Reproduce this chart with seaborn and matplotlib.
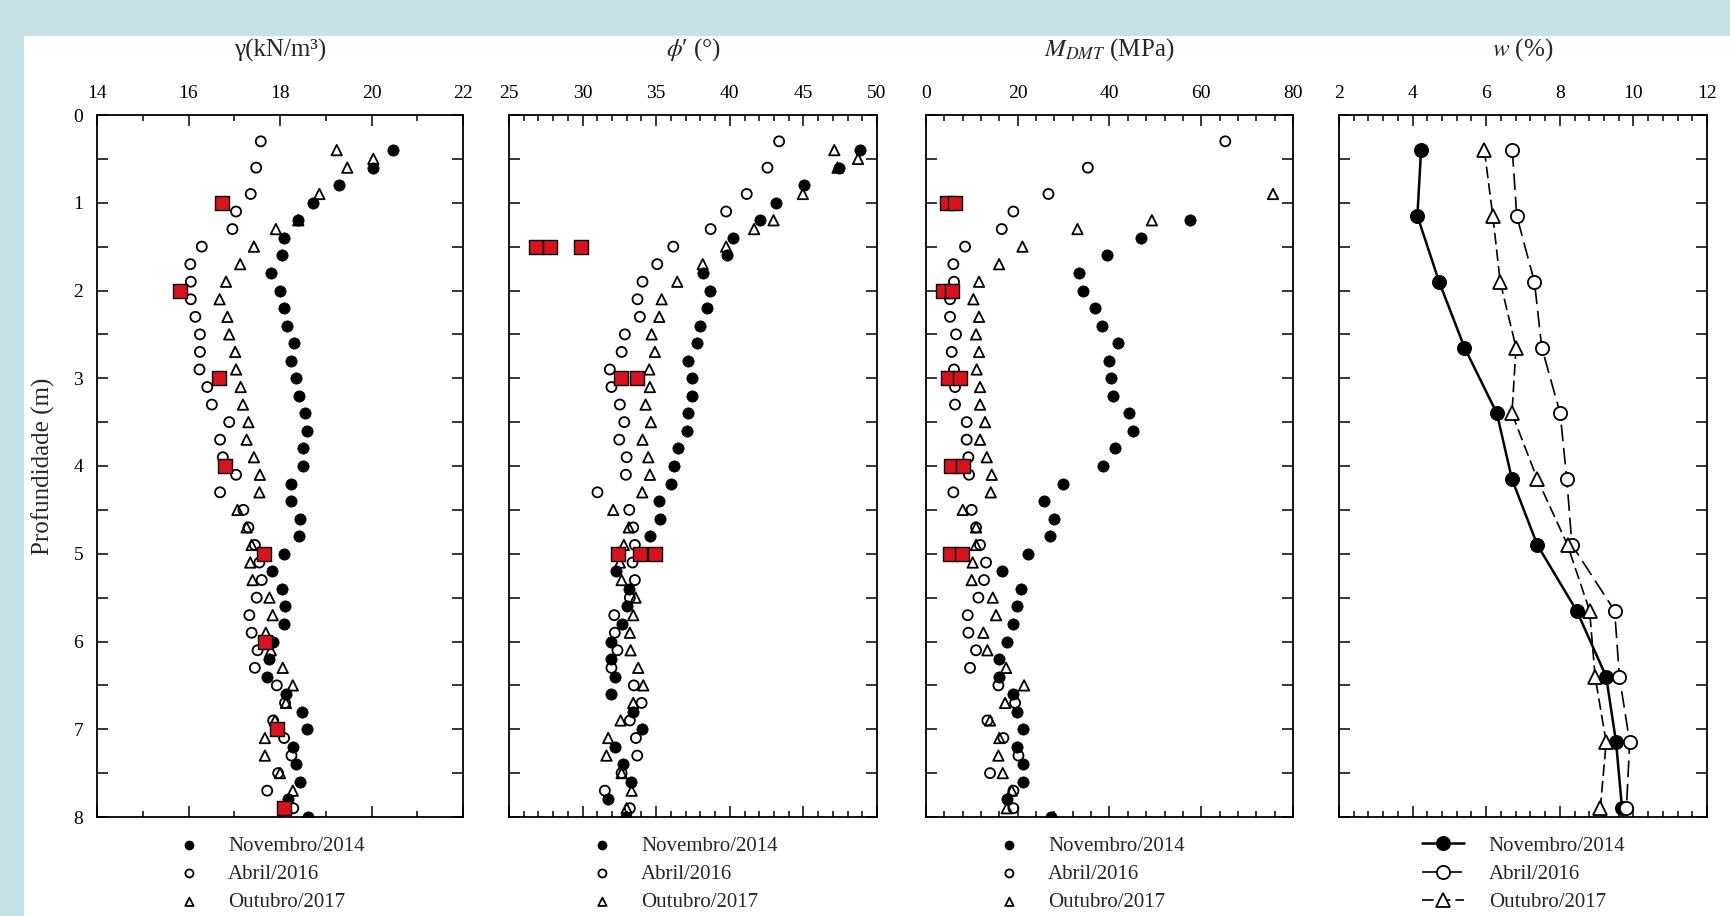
import numpy as np
import matplotlib
matplotlib.use("Agg")
import matplotlib.pyplot as plt
import seaborn as sns
from matplotlib.ticker import MultipleLocator
from matplotlib.patches import Rectangle

# ---------------- data ----------------
labels = ["Novembro/2014", "Abril/2016", "Outubro/2017"]

dep_nov = [0.4, 0.6, 0.8, 1.0, 1.2, 1.4, 1.6, 1.8, 2.0, 2.2, 2.4, 2.6, 2.8, 3.0, 3.2, 3.4,
           3.6, 3.8, 4.0, 4.2, 4.4, 4.6, 4.8, 5.0, 5.2, 5.4, 5.6, 5.8, 6.0, 6.2, 6.4, 6.6,
           6.8, 7.0, 7.2, 7.4, 7.6, 7.8, 8.0]
dep_abr = [0.3, 0.6, 0.9, 1.1, 1.3, 1.5, 1.7, 1.9, 2.1, 2.3, 2.5, 2.7, 2.9, 3.1, 3.3, 3.5,
           3.7, 3.9, 4.1, 4.3, 4.5, 4.7, 4.9, 5.1, 5.3, 5.5, 5.7, 5.9, 6.1, 6.3, 6.5, 6.7,
           6.9, 7.1, 7.3, 7.5, 7.7, 7.9]
dep_out = [0.4, 0.5, 0.6, 0.9, 1.2, 1.3, 1.5, 1.7, 1.9, 2.1, 2.3, 2.5, 2.7, 2.9, 3.1, 3.3,
           3.5, 3.7, 3.9, 4.1, 4.3, 4.5, 4.7, 4.9, 5.1, 5.3, 5.5, 5.7, 5.9, 6.1, 6.3, 6.5,
           6.7, 6.9, 7.1, 7.3, 7.5, 7.7, 7.9]

# unit weight gamma (kN/m3)
gam_nov = [20.46, 20.04, 19.29, 18.73, 18.40, 18.09, 18.04, 17.80, 17.99, 18.09, 18.16, 18.31,
           18.25, 18.36, 18.42, 18.55, 18.58, 18.51, 18.51, 18.23, 18.23, 18.44, 18.42, 18.09,
           17.82, 18.05, 18.11, 18.09, 17.85, 17.75, 17.72, 18.13, 18.47, 18.60, 18.29, 18.35,
           18.44, 18.18, 18.62]
gam_abr = [17.58, 17.48, 17.36, 17.04, 16.96, 16.29, 16.04, 16.05, 16.05, 16.15, 16.25, 16.25,
           16.24, 16.41, 16.51, 16.89, 16.69, 16.75, 17.04, 16.69, 17.20, 17.31, 17.45, 17.55,
           17.60, 17.49, 17.33, 17.38, 17.51, 17.45, 17.93, 18.11, 17.85, 18.09, 18.25, 17.96,
           17.72, 18.29]
gam_out = [19.24, 20.04, 19.47, 18.86, 18.40, 17.91, 17.43, 17.13, 16.82, 16.68, 16.85, 16.89,
           17.02, 17.04, 17.14, 17.19, 17.31, 17.27, 17.43, 17.56, 17.55, 17.07, 17.27, 17.38,
           17.35, 17.40, 17.77, 17.84, 17.69, 17.80, 18.06, 18.28, 18.13, 17.89, 17.67, 17.67,
           18.00, 18.28, 18.15]
gam_lab_dep = [1.0, 2.0, 3.0, 4.0, 5.0, 6.0, 7.0, 7.9]
gam_lab = [16.73, 15.82, 16.67, 16.80, 17.64, 17.67, 17.93, 18.09]

# friction angle phi' (deg)
phi_nov = [48.87, 47.40, 45.05, 43.15, 42.06, 40.25, 39.79, 38.16, 38.66, 38.43, 37.98, 37.75,
           37.18, 37.41, 37.41, 37.18, 37.07, 36.50, 36.21, 35.98, 35.19, 35.25, 34.57, 34.00,
           32.30, 33.17, 32.99, 32.65, 31.96, 31.96, 32.19, 31.90, 33.39, 34.01, 32.19, 32.76,
           33.28, 31.74, 32.94]
phi_abr = [43.35, 42.56, 41.15, 39.75, 38.70, 36.16, 35.07, 34.07, 33.73, 33.89, 32.87, 32.65,
           31.85, 31.96, 32.53, 32.83, 32.49, 32.99, 32.94, 31.01, 33.17, 33.44, 33.55, 33.39,
           33.55, 33.21, 32.15, 32.19, 32.37, 31.96, 33.48, 34.01, 33.21, 33.62, 33.71, 32.65,
           31.51, 33.21]
phi_out = [47.10, 48.71, 47.32, 44.96, 42.97, 41.65, 39.75, 38.16, 36.43, 35.37, 35.21, 34.69,
           34.91, 34.53, 34.57, 34.28, 34.64, 34.07, 34.46, 34.57, 34.05, 32.08, 33.14, 32.80,
           32.53, 32.65, 33.60, 33.44, 33.21, 33.26, 33.78, 34.12, 33.44, 32.58, 31.74, 31.62,
           32.65, 33.33, 32.99]
phi_lab_dep = [1.5, 1.5, 1.5, 3.0, 3.0, 5.0, 5.0, 5.0]
phi_lab = [26.81, 27.77, 29.92, 32.58, 33.67, 32.42, 33.89, 34.91]

# constrained modulus M_DMT (MPa); nan = beyond the 80 MPa axis
m_nov = [np.nan, np.nan, np.nan, np.nan, 57.6, 46.84, 39.56, 33.45, 34.33, 36.87, 38.33, 41.96,
         40.0, 40.29, 40.87, 44.15, 45.09, 41.24, 38.69, 29.96, 25.75, 27.93, 27.05, 22.33,
         16.51, 20.65, 19.93, 19.05, 17.75, 16.0, 16.0, 19.05, 19.93, 21.09, 19.93, 21.09,
         21.09, 17.6, 27.2]
m_abr = [65.24, 35.27, 26.69, 19.05, 16.51, 8.51, 5.96, 6.1, 5.24, 5.24, 6.55, 5.6, 6.1, 6.33,
         6.33, 8.87, 8.87, 9.24, 9.38, 5.96, 9.96, 10.91, 11.78, 13.09, 12.65, 11.42, 9.09,
         9.24, 10.91, 9.6, 15.78, 19.42, 13.38, 16.87, 20.15, 13.96, 19.05, 19.05]
m_out = [np.nan, np.nan, np.nan, 75.64, 49.24, 33.02, 21.02, 15.93, 11.56, 10.33, 11.56, 10.91,
         11.56, 11.05, 11.78, 11.78, 12.87, 11.78, 13.24, 14.33, 14.11, 8.0, 10.91, 10.91,
         10.18, 9.96, 14.55, 15.27, 12.51, 13.38, 17.45, 21.38, 17.24, 13.96, 16.0, 15.78,
         16.73, 18.69, 17.6]
m_lab_dep = [1.0, 1.0, 2.0, 2.0, 3.0, 3.0, 4.0, 4.0, 5.0, 5.0]
m_lab = [4.51, 6.33, 3.78, 5.6, 4.87, 7.42, 5.45, 8.0, 5.24, 7.78]

# water content w (%)
w_dep = [0.4, 1.15, 1.9, 2.65, 3.4, 4.15, 4.9, 5.65, 6.4, 7.15, 7.9]
w_nov = [4.23, 4.13, 4.72, 5.41, 6.29, 6.70, 7.39, 8.46, 9.26, 9.53, 9.69]
w_abr = [6.71, 6.83, 7.31, 7.51, 8.01, 8.19, 8.33, 9.49, 9.62, 9.90, 9.81]
w_out = [5.95, 6.18, 6.38, 6.81, 6.70, 7.39, 8.21, 8.81, 8.96, 9.26, 9.10]

# ---------------- style ----------------
sns.set_theme(style="ticks")
plt.rcParams["font.family"] = ["Liberation Serif", "DejaVu Serif"]
plt.rcParams["mathtext.fontset"] = "stix"
plt.rcParams["axes.unicode_minus"] = False

W, H = 1731, 916
fig = plt.figure(figsize=(W / 100, H / 100), dpi=100)
fig.patch.set_facecolor("#C5E3E7")
fig.add_artist(Rectangle((24 / W, 0), 1 - 24 / W, 1 - 36 / H, transform=fig.transFigure,
                         facecolor="white", edgecolor="none", zorder=0))

TOP, BOT = 115, 817
panels_px = [(97, 463), (509, 877), (926, 1293), (1339, 1707)]


def make_ax(x0, x1):
    return fig.add_axes([x0 / W, (H - BOT) / H, (x1 - x0) / W, (BOT - TOP) / H])


axes = [make_ax(*p) for p in panels_px]
RED = "#D7141E"


def style_ax(ax, xlim, xmaj, xmin, show_y):
    ax.set_xlim(*xlim)
    ax.set_ylim(8, 0)
    ax.xaxis.set_major_locator(MultipleLocator(xmaj))
    ax.xaxis.set_minor_locator(MultipleLocator(xmin))
    ax.yaxis.set_major_locator(MultipleLocator(1))
    ax.yaxis.set_minor_locator(MultipleLocator(0.5))
    ax.tick_params(which="both", direction="in", top=True, bottom=True, left=True, right=True,
                   labeltop=True, labelbottom=False, labelleft=show_y, labelright=False,
                   colors="black", width=1.1)
    ax.tick_params(which="major", length=8, labelsize=14)
    ax.tick_params(axis="x", which="major", pad=9)
    ax.tick_params(axis="y", which="major", pad=10)
    ax.tick_params(axis="x", which="minor", length=4)
    ax.tick_params(axis="y", which="minor", length=8)
    for s in ax.spines.values():
        s.set_color("black")
        s.set_linewidth(1.3)
    ax.set_xlabel("")
    ax.set_ylabel("")
    ax.set_facecolor("white")


def scatter_panel(ax, nov, abr, out, lab_dep, lab_val):
    sns.scatterplot(x=nov, y=dep_nov, ax=ax, marker="o", s=66, color="black",
                    edgecolor="black", linewidth=0.5, label=labels[0], zorder=3)
    sns.scatterplot(x=abr, y=dep_abr, ax=ax, marker="o", s=52, color="black",
                    facecolor="none", edgecolor="black", linewidth=1.3, label=labels[1], zorder=3)
    sns.scatterplot(x=out, y=dep_out, ax=ax, marker="^", s=56, color="black",
                    facecolor="none", edgecolor="black", linewidth=1.3, label=labels[2], zorder=3)
    sns.scatterplot(x=lab_val, y=lab_dep, ax=ax, marker="s", s=88, color=RED,
                    edgecolor="black", linewidth=1.0, label="_lab", zorder=4)
    if ax.get_legend() is not None:
        ax.get_legend().remove()


scatter_panel(axes[0], gam_nov, gam_abr, gam_out, gam_lab_dep, gam_lab)
style_ax(axes[0], (14, 22), 2, 1, True)
scatter_panel(axes[1], phi_nov, phi_abr, phi_out, phi_lab_dep, phi_lab)
style_ax(axes[1], (25, 50), 5, 1, False)
scatter_panel(axes[2], m_nov, m_abr, m_out, m_lab_dep, m_lab)
style_ax(axes[2], (0, 80), 20, 4, False)

ax4 = axes[3]
sns.lineplot(x=w_nov, y=w_dep, ax=ax4, sort=False, estimator=None, color="black", lw=1.8,
             marker="o", markersize=10, markerfacecolor="black", markeredgecolor="black",
             label=labels[0])
sns.lineplot(x=w_abr, y=w_dep, ax=ax4, sort=False, estimator=None, color="black", lw=1.2,
             linestyle=(0, (10, 4)), marker="o", markersize=9.5, markerfacecolor="white",
             markeredgecolor="black", markeredgewidth=1.3, label=labels[1])
sns.lineplot(x=w_out, y=w_dep, ax=ax4, sort=False, estimator=None, color="black", lw=1.2,
             linestyle=(0, (7, 3)), marker="^", markersize=9.5, markerfacecolor="white",
             markeredgecolor="black", markeredgewidth=1.3, label=labels[2])
if ax4.get_legend() is not None:
    ax4.get_legend().remove()
style_ax(ax4, (2, 12), 2, 0.4, False)

# titles
titles = ["γ(kN/m³)", r"$\phi$′ (°)", r"$M_{DMT}$ (MPa)", r"$w$ (%)"]
for (x0, x1), t in zip(panels_px, titles):
    fig.text((x0 + x1) / 2 / W, 1 - 50 / H, t, ha="center", va="center", fontsize=18)

fig.text(43 / W, 1 - 466 / H, "Profundidade (m)", rotation=90, ha="center", va="center",
         fontsize=18)

# legends below panels
leg_left = [179, 592, 999, 1422]
for i, ax in enumerate(axes):
    h, l = ax.get_legend_handles_labels()
    keep = [(hh, ll) for hh, ll in zip(h, l) if not ll.startswith("_")]
    hs, ls = zip(*keep)
    if i < 3:
        kw = dict(handlelength=1.0, handletextpad=1.35)
    else:
        kw = dict(handlelength=2.0, handletextpad=1.2)
    ax.legend(hs, ls, loc="upper left", bbox_to_anchor=(leg_left[i] / W, 1 - 836 / H),
              bbox_transform=fig.transFigure, frameon=False, fontsize=15, borderpad=0,
              borderaxespad=0, labelspacing=0.42, markerscale=0.8 if i < 3 else 1.0, **kw)

fig.savefig("out.png", dpi=100, facecolor=fig.get_facecolor())
